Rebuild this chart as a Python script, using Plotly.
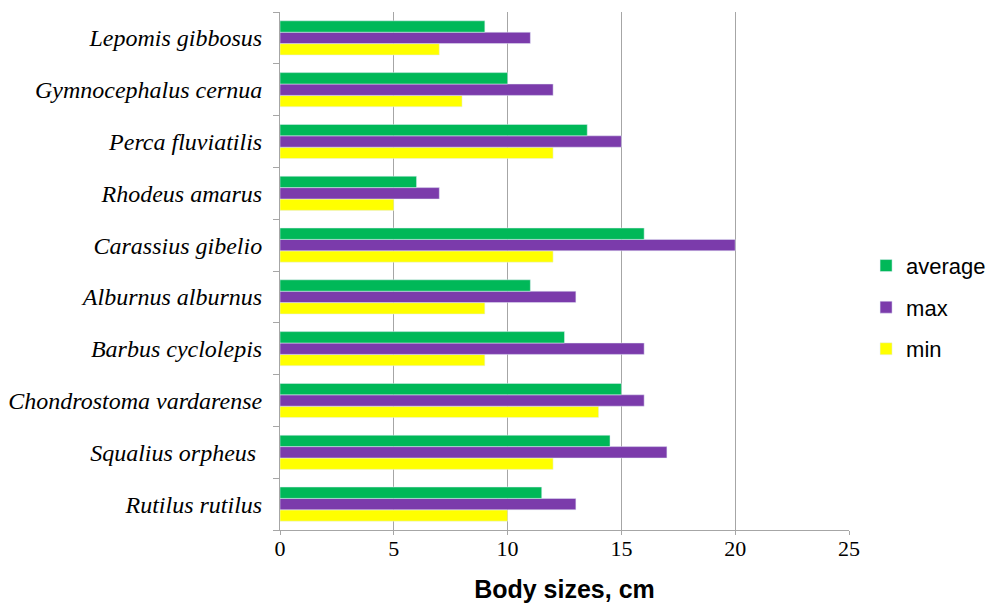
import plotly.graph_objects as go

species = ["Rutilus rutilus", "Squalius orpheus ", "Chondrostoma vardarense", "Barbus cyclolepis",
           "Alburnus alburnus", "Carassius gibelio", "Rhodeus amarus", "Perca fluviatilis",
           "Gymnocephalus cernua", "Lepomis gibbosus"]
min_vals = [10, 12, 14, 9, 9, 12, 5, 12, 8, 7]
max_vals = [13, 17, 16, 16, 13, 20, 7, 15, 12, 11]
avg_vals = [11.5, 14.5, 15, 12.5, 11, 16, 6, 13.5, 10, 9]
x_ticks = [0, 5, 10, 15, 20, 25]

fig = go.Figure()
fig.add_trace(go.Bar(y=species, x=min_vals, name="min", orientation="h",
                     marker=dict(color="#FFFF00"), legendgroup="c", legendrank=3))
fig.add_trace(go.Bar(y=species, x=max_vals, name="max", orientation="h",
                     marker=dict(color="#7B3BAB"), legendgroup="b", legendrank=2))
fig.add_trace(go.Bar(y=species, x=avg_vals, name="average", orientation="h",
                     marker=dict(color="#00B858"), legendgroup="a", legendrank=1))

fig.update_layout(
    width=987, height=595,
    margin=dict(l=272, r=146, t=4, b=73),
    paper_bgcolor="white", plot_bgcolor="white",
    barmode="group", bargap=0.34, bargroupgap=0,
    legend=dict(traceorder="grouped", x=1.03, y=0.43, xanchor="left", yanchor="middle",
                font=dict(family="Liberation Sans, Arial", size=22, color="black"),
                tracegroupgap=10, itemwidth=30),
    xaxis=dict(range=[0, 25], tickvals=x_ticks, showgrid=True, gridcolor="#A6A6A6", gridwidth=1,
               showline=True, linecolor="#A6A6A6", linewidth=1, ticks="outside", ticklen=4,
               tickcolor="#A6A6A6", zeroline=False, automargin=False, ticklabelstandoff=-5,
               tickfont=dict(family="Liberation Serif, Times New Roman", size=22, color="black"),
               title=dict(text="<b>Body sizes, cm</b>", standoff=21,
                          font=dict(family="Liberation Sans, Arial", size=25, color="black"))),
    yaxis=dict(type="category", showline=True, linecolor="#A6A6A6", linewidth=1,
               ticks="outside", ticklen=6, tickcolor="#A6A6A6", tickson="boundaries",
               showgrid=False, automargin=False, ticklabelstandoff=12,
               tickfont=dict(family="Liberation Serif, Times New Roman", size=24, color="black",
                             style="italic")),
)

fig.write_html("out.html")
